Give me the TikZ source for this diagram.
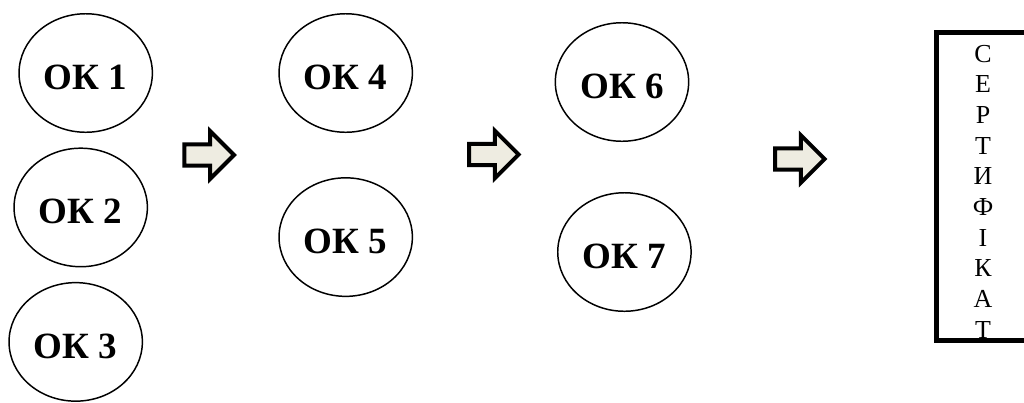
\documentclass[tikz,border=0pt]{standalone}
\usepackage{fontspec}
\setmainfont{Liberation Serif}
\usepackage{tikz}
\usetikzlibrary{positioning, shapes.geometric, shapes.arrows}
\definecolor{arrowfill}{HTML}{EEECE1}

\begin{document}
\begin{tikzpicture}[x=0.54pt, y=-0.54pt, node distance=72.6pt,
  ok/.style={ellipse, draw, line width=0.8pt, minimum width=72pt, minimum height=64pt, inner sep=0pt, text height=17.5pt, text depth=0pt, font=\fontsize{20}{24}\selectfont\bfseries},
  blockarrow/.style={single arrow, draw, fill=arrowfill, line width=2.16pt, minimum width=21.8pt, minimum height=26.8pt, inner sep=4.6pt, outer sep=0pt, anchor=tail},
  certbox/.style={rectangle, draw, line width=2.7pt, minimum width=50.2pt, minimum height=166.3pt, inner sep=0pt},
  certtext/.style={align=center, inner sep=0pt, font=\fontsize{14}{16.56}\selectfont}]
\clip (0,0) rectangle (1024,402);
% nodes %
\node[ok] (ok1) at (85.7,73) {ОК 1};
\node[ok, below of = ok1, xshift=-2.7pt] (ok2) {ОК 2};
\node[ok, below of = ok2, xshift=-2.7pt] (ok3) {ОК 3};
\node[ok] (ok4) at (345.7,73) {ОК 4};
\node[ok, below of = ok4, node distance=88.6pt] (ok5) {ОК 5};
\node[ok] (ok6) at (622,82) {ОК 6};
\node[ok, below of = ok6, node distance=91.8pt, xshift=1.3pt] (ok7) {ОК 7};
\node[certbox] (cert) at (983,186.5) {};
\node[certtext, anchor=north] (certword) at (983,44.5) {С\\Е\\Р\\Т\\И\\Ф\\І\\К\\А\\Т};
% arrows %
\node[blockarrow] (arr1) at (184.3,155) {};
\node[blockarrow] (arr2) at (469,154.5) {};
\node[blockarrow] (arr3) at (775,159) {};
\end{tikzpicture}
\end{document}
